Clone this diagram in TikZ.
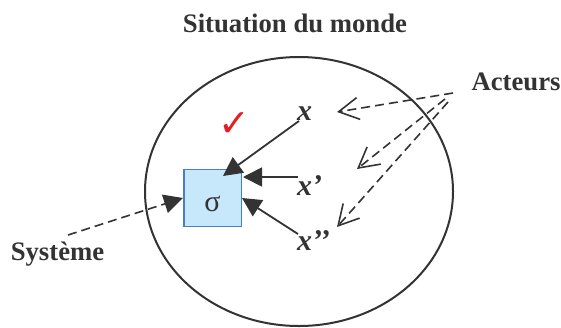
\documentclass[tikz,border=0pt]{standalone}
\usepackage{fontspec}
\setmainfont{Liberation Serif}
\newfontfamily\symfont{DejaVu Sans}
\usetikzlibrary{arrows.meta,shapes.geometric}
\definecolor{ink}{HTML}{333333}
\definecolor{boxfill}{HTML}{C6E8FA}
\definecolor{boxline}{HTML}{4A7CC7}
\definecolor{checkred}{HTML}{E41E26}
\begin{document}
\begin{tikzpicture}[x=1pt,y=-1pt,
  lbl/.style={inner sep=0pt, text=ink, anchor=base, font=\fontsize{26.7}{30}\selectfont\bfseries},
  xlbl/.style={inner sep=0pt, text=ink, anchor=base west, font=\fontsize{30}{34}\selectfont\bfseries\itshape},
  solidarr/.style={draw=ink, line width=1.8pt, -{Triangle[length=19pt,width=19pt]}},
  dasharr/.style={draw=ink, line width=1.6pt, dash pattern=on 9pt off 5pt, -{Straight Barb[length=20pt,width=22pt]}},
  dashtri/.style={draw=ink, line width=1.6pt, dash pattern=on 9pt off 5pt, -{Triangle[length=19pt,width=19pt]}},
  sigmabox/.style={draw=boxline, fill=boxfill, line width=1.5pt, minimum width=57.5pt, minimum height=57pt, inner sep=0pt, text=ink, font=\fontsize{30}{30}\selectfont, text height=26pt, text depth=0pt},
  world/.style={draw=ink, line width=2pt, ellipse, inner sep=0pt, minimum width=308pt, minimum height=269pt}
]
\useasboundingbox (0,0) rectangle (561,327);
\node[world] (monde) at (299,191.5) {};
\node[lbl] (title) at (295,32.3) {Situation du monde};
\node[lbl] (acteurs) at (516,90) {Acteurs};
\node[lbl] (systeme) at (57.5,260.5) {Système};
\node[sigmabox] (sigma) at (212.5,198) {σ};
\node[xlbl] (xa) at (297,120) {x};
\node[xlbl] (xb) at (297,195) {x’};
\node[xlbl] (xc) at (297,250) {x’’};
\node[inner sep=0pt, text=checkred, font=\symfont\bfseries\fontsize{38}{38}\selectfont] (check) at (234,125) {✓};
% connector ends
\coordinate (xaS) at (299,121);
\coordinate (tA) at (223,176);
\coordinate (xbS) at (298,177);
\coordinate (tB) at (243,177);
\coordinate (xcS) at (298,234);
\coordinate (sysS) at (68,235);
\coordinate (acS1) at (453,93);
\coordinate (acS2) at (445,99);
\coordinate (acS3) at (448,102);
\coordinate (acT1) at (337,112);
\coordinate (acT2) at (357,169);
\coordinate (acT3) at (337,227);
\draw[solidarr] (xaS) -- (tA);
\draw[solidarr] (xbS) -- (tB);
\draw[solidarr] (xcS) -- (sigma.east);
\draw[dashtri] (sysS) -- (sigma.west);
\draw[dasharr] (acS1) -- (acT1);
\draw[dasharr] (acS2) -- (acT2);
\draw[dasharr] (acS3) -- (acT3);
\end{tikzpicture}
\end{document}
